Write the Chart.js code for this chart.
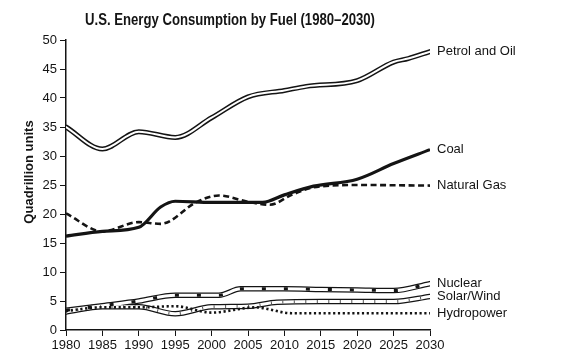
<!DOCTYPE html>
<html>
<head>
<meta charset="utf-8">
<script src="https://cdn.jsdelivr.net/npm/chart.js@4"></script>
<style>
  html, body { margin: 0; padding: 0; background: #fff; }
  #wrap { width: 568px; height: 362px; }
</style>
</head>
<body>
<div id="wrap"><canvas id="chart" width="568" height="362"></canvas></div>
<script>
// values (quadrillion units)
const titleText = "U.S. Energy Consumption by Fuel (1980\u20132030)";
const yTitle = "Quadrillion units";

const petrolYears = [1980, 1985, 1990, 1995, 2000, 2005, 2010, 2013, 2020, 2025, 2027, 2030];
const petrolOil   = [35, 31.2, 34.2, 33.2, 36.6, 40.2, 41.3, 42, 43, 46.2, 46.8, 48];

const coalYears = [1980, 1985, 1990, 1993, 1995, 2000, 2007, 2010, 2014, 2020, 2025, 2030];
const coal      = [16.2, 17, 17.7, 21.2, 22.2, 22, 22, 23.3, 24.8, 26, 28.7, 31.1];

const gasYears = [1980, 1985, 1990, 1993, 1998, 2001, 2005, 2008, 2011, 2014, 2020, 2030];
const natGas   = [20.1, 17, 18.6, 18.3, 22.1, 23.2, 22.1, 21.6, 23.3, 24.6, 25, 24.9];

const nuclearYears = [1980, 1985, 1990, 1995, 2001, 2004, 2010, 2015, 2020, 2025, 2030];
const nuclear      = [3.4, 4.2, 5.0, 6.0, 6.0, 7.1, 7.1, 7.0, 6.9, 6.8, 8.0];

const solarYears = [1980, 1985, 1990, 1995, 2000, 2005, 2009, 2015, 2020, 2025, 2030];
const solarWind  = [3.1, 4.0, 4.0, 2.8, 4.0, 4.1, 4.8, 4.9, 4.9, 4.9, 5.8];

const hydroYears = [1980, 1985, 1990, 1995, 2000, 2006, 2011, 2015, 2020, 2025, 2030];
const hydro      = [3.3, 3.9, 3.9, 4.1, 3.0, 3.9, 2.9, 2.9, 2.9, 2.9, 2.9];

function pts(xs, ys) {
    return xs.map((x, i) => ({x: x, y: ys[i]}));
}

const INK = '#141414';

function line(data, opts) {
    return Object.assign({
        data: data,
        borderColor: INK,
        borderWidth: 2,
        pointRadius: 0,
        cubicInterpolationMode: 'monotone',
        fill: false,
        borderCapStyle: 'butt'
    }, opts);
}

const datasets = [
    // petrol: double line
    line(pts(petrolYears, petrolOil), {label: 'Petrol and Oil', borderWidth: 5, borderCapStyle: 'round', order: 5, endLabel: 'Petrol and Oil'}),
    line(pts(petrolYears, petrolOil), {label: 'po-in', borderColor: '#fff', borderWidth: 2, borderCapStyle: 'round', order: 4}),
    // coal
    line(pts(coalYears, coal), {label: 'Coal', borderWidth: 3.2, order: 3, endLabel: 'Coal'}),
    // natural gas
    line(pts(gasYears, natGas), {label: 'Natural Gas', borderWidth: 2.6, borderDash: [6, 3.5], order: 3, endLabel: 'Natural Gas'}),
    // nuclear: double line with black marks
    line(pts(nuclearYears, nuclear), {label: 'Nuclear', borderWidth: 5.5, borderCapStyle: 'round', order: 5, endLabel: 'Nuclear'}),
    line(pts(nuclearYears, nuclear), {label: 'nu-in', borderColor: '#fff', borderWidth: 3, borderCapStyle: 'round', order: 4}),
    line(pts(nuclearYears, nuclear), {label: 'nu-mk', borderWidth: 3, borderDash: [4, 18], order: 2}),
    // solar / wind: double line with hatching
    line(pts(solarYears, solarWind), {label: 'Solar/Wind', borderWidth: 5.5, borderCapStyle: 'round', order: 5, endLabel: 'Solar/Wind'}),
    line(pts(solarYears, solarWind), {label: 'sw-in', borderColor: '#fff', borderWidth: 3, borderCapStyle: 'round', order: 4}),
    line(pts(solarYears, solarWind), {label: 'sw-hatch', borderColor: '#555', borderWidth: 3, borderDash: [1, 10.5], order: 2}),
    // hydropower: dotted
    line(pts(hydroYears, hydro), {label: 'Hydropower', borderWidth: 2.6, borderDash: [2.2, 2.6], order: 1, endLabel: 'Hydropower'})
];

const textPlugin = {
    id: 'textPlugin',
    afterDatasetsDraw(chart) {
        const ctx = chart.ctx;
        ctx.save();
        ctx.fillStyle = INK;
        // end labels
        ctx.font = "13px 'Liberation Sans', Arial, sans-serif";
        ctx.textAlign = 'left';
        ctx.textBaseline = 'middle';
        chart.data.datasets.forEach((ds, i) => {
            if (!ds.endLabel) return;
            const pts = chart.getDatasetMeta(i).data;
            const p = pts[pts.length - 1];
            ctx.fillText(ds.endLabel, p.x + 7, p.y);
        });
        // title, squeezed like the original
        ctx.font = "bold 17px 'Liberation Sans', Arial, sans-serif";
        const w = ctx.measureText(titleText).width;
        ctx.save();
        ctx.translate(230, 20);
        ctx.scale(290 / w, 1);
        ctx.textAlign = 'center';
        ctx.fillText(titleText, 0, 0);
        ctx.restore();
        // y axis title
        ctx.font = "bold 13px 'Liberation Sans', Arial, sans-serif";
        ctx.save();
        ctx.translate(29, 172);
        ctx.rotate(-Math.PI / 2);
        ctx.textAlign = 'center';
        ctx.fillText(yTitle, 0, 0);
        ctx.restore();
        ctx.restore();
    }
};

Chart.defaults.font.family = "'Liberation Sans', Arial, sans-serif";
Chart.defaults.font.size = 13;
Chart.defaults.color = INK;

new Chart(document.getElementById('chart'), {
    type: 'line',
    data: {datasets: datasets},
    options: {
        responsive: false,
        animation: false,
        layout: {padding: {left: 0, right: 138, top: 40, bottom: 0}},
        scales: {
            x: {
                type: 'linear',
                min: 1980,
                max: 2030,
                afterFit: function(scale) { scale.height = 32; },
                ticks: {stepSize: 5, padding: 2, color: INK, callback: v => String(v)},
                grid: {drawOnChartArea: false, drawTicks: true, tickLength: 6, color: INK, lineWidth: 1},
                border: {display: true, color: INK, width: 1.5}
            },
            y: {
                min: 0,
                max: 50,
                afterFit: function(scale) { scale.width = 66; },
                ticks: {stepSize: 5, padding: 3, color: INK},
                grid: {drawOnChartArea: false, drawTicks: true, tickLength: 6, color: INK, lineWidth: 1},
                border: {display: true, color: INK, width: 1.5}
            }
        },
        plugins: {
            legend: {display: false},
            title: {display: false},
            tooltip: {enabled: false}
        }
    },
    plugins: [textPlugin]
});
</script>
</body>
</html>
